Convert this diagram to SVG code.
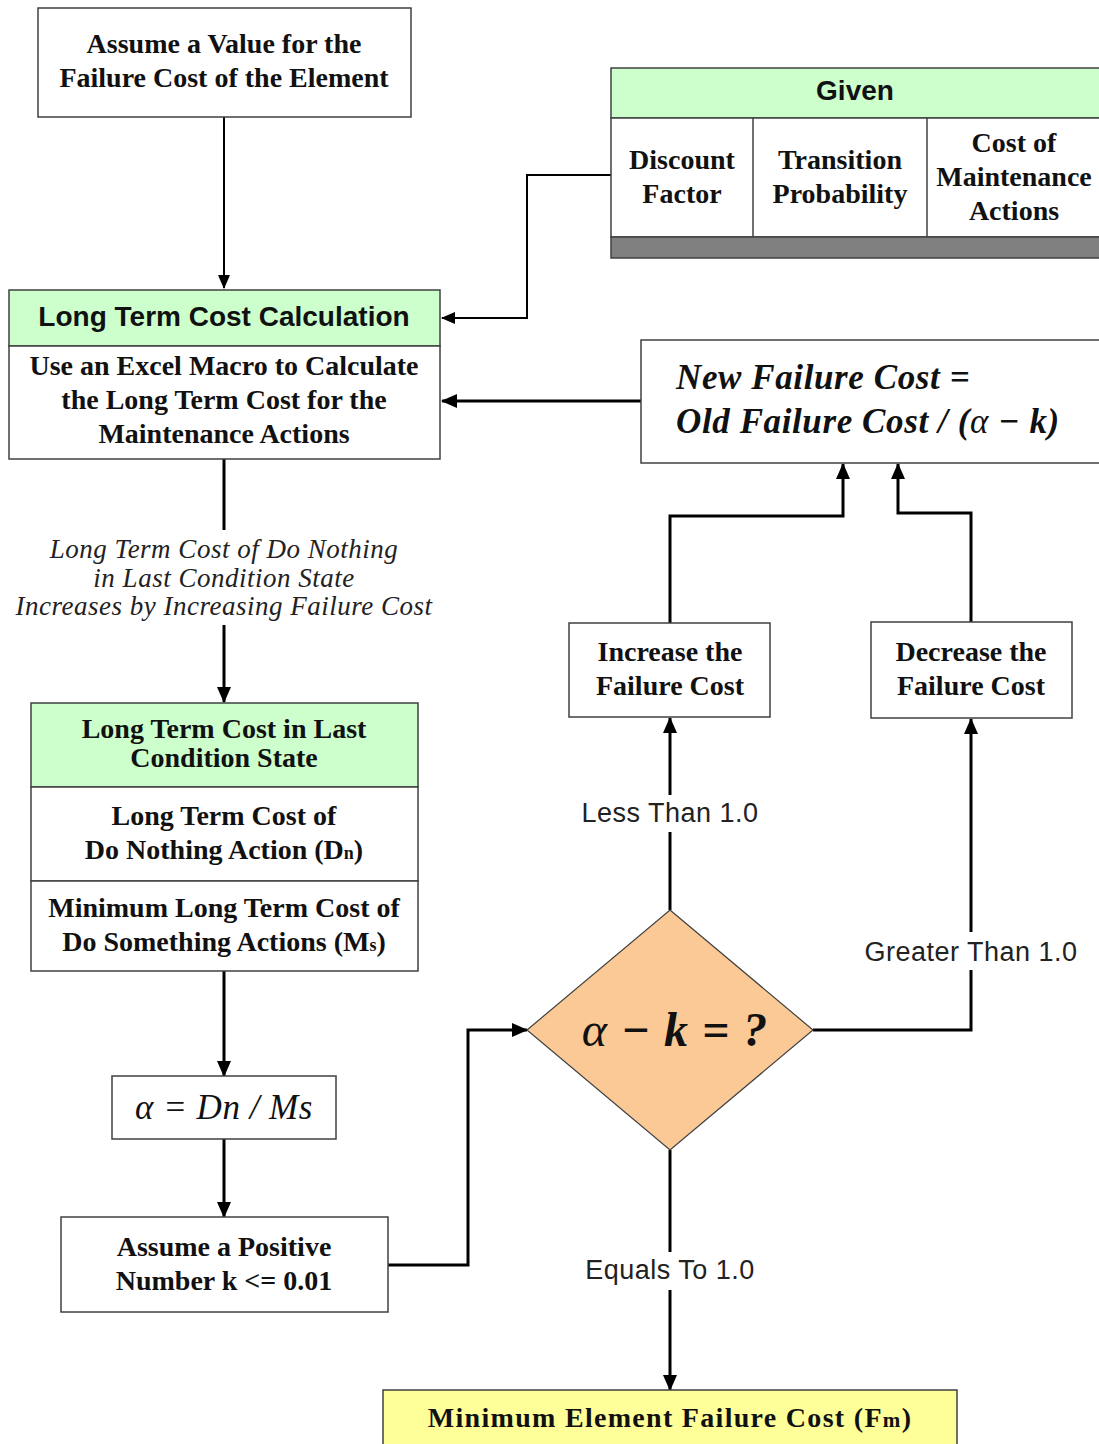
<svg xmlns="http://www.w3.org/2000/svg" width="1099" height="1444" viewBox="0 0 1099 1444">
  <style>
    .box { fill: #ffffff; stroke: #404040; stroke-width: 1.5; }
    .hdr { fill: #ccffcc; stroke: #404040; stroke-width: 1.5; }
    .tb { font-family: "Liberation Serif", serif; font-weight: bold; font-size: 28px; fill: #111; text-anchor: middle; }
    .ts { font-family: "Liberation Sans", sans-serif; font-weight: bold; font-size: 28px; fill: #111; text-anchor: middle; }
    .lbl { font-family: "Liberation Sans", sans-serif; font-size: 27px; letter-spacing: 0.5px; fill: #222; text-anchor: middle; }
    .ital { font-family: "Liberation Serif", serif; font-style: italic; font-size: 27px; letter-spacing: 0.5px; fill: #222; text-anchor: middle; }
    .math { font-family: "Liberation Serif", serif; font-style: italic; fill: #111; }
    .wire { fill: none; stroke: #000; stroke-width: 3; }
    .thin { fill: none; stroke: #000; stroke-width: 2; }
  </style>
  <defs>
    <marker id="arr" markerUnits="userSpaceOnUse" markerWidth="16" markerHeight="16" viewBox="0 0 16 16" refX="15" refY="8" orient="auto">
      <path d="M0,1 L16,8 L0,15 Z" fill="#000"/>
    </marker>
    <marker id="arrS" markerUnits="userSpaceOnUse" markerWidth="14" markerHeight="14" viewBox="0 0 14 14" refX="13" refY="7" orient="auto">
      <path d="M0,1 L14,7 L0,13 Z" fill="#000"/>
    </marker>
  </defs>
  <rect width="1099" height="1444" fill="#ffffff"/>

  <!-- connectors -->
  <g id="connectors">
    <path class="thin" d="M224,117 V288" marker-end="url(#arrS)"/>
    <path class="thin" d="M611,175 H527 V318 H442" marker-end="url(#arrS)"/>
    <path class="wire" d="M641,401 H442" marker-end="url(#arr)"/>
    <path class="wire" d="M224,459 V530"/>
    <path class="wire" d="M224,625 V702" marker-end="url(#arr)"/>
    <path class="wire" d="M224,971 V1076" marker-end="url(#arr)"/>
    <path class="wire" d="M224,1139 V1217" marker-end="url(#arr)"/>
    <path class="wire" d="M388,1265 H468 V1030 H527" marker-end="url(#arr)"/>
    <path class="wire" d="M670,910 V832"/>
    <path class="wire" d="M670,795 V718" marker-end="url(#arr)"/>
    <path class="wire" d="M813,1030 H971 V970"/>
    <path class="wire" d="M971,932 V719" marker-end="url(#arr)"/>
    <path class="wire" d="M670,1150 V1252"/>
    <path class="wire" d="M670,1290 V1390" marker-end="url(#arr)"/>
    <path class="wire" d="M670,623 V516 H843 V464" marker-end="url(#arr)"/>
    <path class="wire" d="M971,622 V513 H898 V464" marker-end="url(#arr)"/>
    <text class="lbl" x="670" y="822">Less Than 1.0</text>
    <text class="lbl" x="971" y="961">Greater Than 1.0</text>
    <text class="lbl" x="670" y="1279">Equals To 1.0</text>
    <text class="ital" x="224" y="558">Long Term Cost of Do Nothing</text>
    <text class="ital" x="224" y="587">in Last Condition State</text>
    <text class="ital" x="224" y="615">Increases by Increasing Failure Cost</text>
  </g>

  <!-- start: initial failure cost -->
  <g id="assume-value">
    <rect class="box" x="38" y="8" width="373" height="109"/>
    <text class="tb" x="224" y="53">Assume a Value for the</text>
    <text class="tb" x="224" y="87">Failure Cost of the Element</text>
  </g>

  <!-- given inputs table -->
  <g id="given">
    <rect class="hdr" x="611" y="68" width="490" height="50"/>
    <text class="ts" x="855" y="100">Given</text>
    <rect class="box" x="611" y="118" width="490" height="119"/>
    <line x1="753" y1="118" x2="753" y2="237" stroke="#404040" stroke-width="1.5"/>
    <line x1="927" y1="118" x2="927" y2="237" stroke="#404040" stroke-width="1.5"/>
    <rect x="611" y="237" width="490" height="21" fill="#808080" stroke="#404040" stroke-width="1.5"/>
    <text class="tb" x="682" y="169">Discount</text>
    <text class="tb" x="682" y="203">Factor</text>
    <text class="tb" x="840" y="169">Transition</text>
    <text class="tb" x="840" y="203">Probability</text>
    <text class="tb" x="1014" y="152">Cost of</text>
    <text class="tb" x="1014" y="186">Maintenance</text>
    <text class="tb" x="1014" y="220">Actions</text>
  </g>

  <!-- long term cost calculation -->
  <g id="ltc-calc">
    <rect class="hdr" x="9" y="290" width="431" height="56"/>
    <text class="ts" x="224" y="326">Long Term Cost Calculation</text>
    <rect class="box" x="9" y="346" width="431" height="113"/>
    <text class="tb" x="224" y="375">Use an Excel Macro to Calculate</text>
    <text class="tb" x="224" y="409">the Long Term Cost for the</text>
    <text class="tb" x="224" y="443">Maintenance Actions</text>
  </g>

  <!-- failure cost update -->
  <g id="new-failure-cost">
    <rect class="box" x="641" y="340" width="460" height="123"/>
    <text class="math" x="676" y="389" font-size="35" font-weight="bold" letter-spacing="0.6">New Failure Cost =</text>
    <text class="math" x="676" y="433" font-size="35" font-weight="bold" letter-spacing="0.6">Old Failure Cost / (<tspan font-weight="normal">α</tspan> − k)</text>
  </g>

  <!-- last condition state costs -->
  <g id="last-state">
    <rect class="hdr" x="31" y="703" width="387" height="84"/>
    <text class="tb" x="224" y="738">Long Term Cost in Last</text>
    <text class="tb" x="224" y="767">Condition State</text>
    <rect class="box" x="31" y="787" width="387" height="94"/>
    <text class="tb" x="224" y="825">Long Term Cost of</text>
    <text class="tb" x="224" y="859">Do Nothing Action (D<tspan font-size="18">n</tspan>)</text>
    <rect class="box" x="31" y="881" width="387" height="90"/>
    <text class="tb" x="224" y="917">Minimum Long Term Cost of</text>
    <text class="tb" x="224" y="951">Do Something Actions (M<tspan font-size="18">s</tspan>)</text>
  </g>

  <!-- ratio -->
  <g id="alpha">
    <rect class="box" x="112" y="1076" width="224" height="63"/>
    <text class="math" x="224" y="1119" font-size="35" letter-spacing="0.5" text-anchor="middle">α = Dn / Ms</text>
  </g>

  <!-- k -->
  <g id="assume-k">
    <rect class="box" x="61" y="1217" width="327" height="95"/>
    <text class="tb" x="224" y="1256">Assume a Positive</text>
    <text class="tb" x="224" y="1290">Number k &lt;= 0.01</text>
  </g>

  <!-- decision -->
  <g id="decision">
    <polygon points="670,910 813,1030 670,1150 527,1030" fill="#fac995" stroke="#404040" stroke-width="1.2"/>
    <text class="math" x="675" y="1046" font-size="48" font-weight="bold" text-anchor="middle" letter-spacing="1"><tspan font-weight="normal">α</tspan> − k = ?</text>
  </g>

  <g id="increase">
    <rect class="box" x="569" y="623" width="201" height="94"/>
    <text class="tb" x="670" y="661">Increase the</text>
    <text class="tb" x="670" y="695">Failure Cost</text>
  </g>

  <g id="decrease">
    <rect class="box" x="871" y="622" width="201" height="96"/>
    <text class="tb" x="971" y="661">Decrease the</text>
    <text class="tb" x="971" y="695">Failure Cost</text>
  </g>

  <!-- result -->
  <g id="minimum-cost">
    <rect x="383" y="1390" width="574" height="60" fill="#ffff99" stroke="#404040" stroke-width="1.5"/>
    <text class="tb" x="670" y="1427" font-size="33" letter-spacing="1.3">Minimum Element Failure Cost (F<tspan font-size="21">m</tspan>)</text>
  </g>
</svg>
